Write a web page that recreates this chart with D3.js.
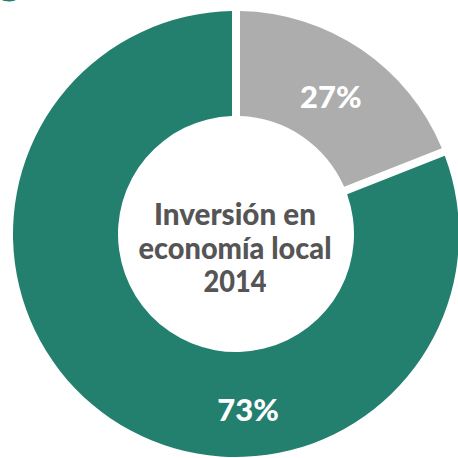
<!DOCTYPE html>
<html>
<head>
<meta charset="utf-8">
<script src="https://cdn.jsdelivr.net/npm/d3@7"></script>
<style>
  html, body { margin: 0; padding: 0; background: #fff; }
  svg { display: block; }
</style>
</head>
<body>
<svg id="chart" width="458" height="458"></svg>
<script>
// Data
const categories = ["Otros", "Economía local"];
const percentLabels = ["27%", "73%"];
// Slice shares as drawn in the picture (angular extent)
const sliceShares = [19, 81];
const colors = ["#adadad", "#237f6e"];
const centerLines = ["Inversión en", "economía local", "2014"];

const W = 458, H = 458;
const cx = 236, cy = 234;
const outerR = 223, innerR = 118;
const gap = 8;

const svg = d3.select("#chart");

// partial title glyph cut at the top
svg.append("text")
  .attr("x", -2).attr("y", -6)
  .attr("font-family", "Lato, sans-serif")
  .attr("font-weight", 900)
  .attr("font-size", 44)
  .attr("fill", "#237f6e")
  .text("g");

const g = svg.append("g").attr("transform", `translate(${cx},${cy})`);

const pie = d3.pie().sort(null).value(d => d)(sliceShares);
const arc = d3.arc()
  .innerRadius(innerR)
  .outerRadius(outerR)
  .padAngle(gap / outerR)
  .padRadius(outerR);

g.selectAll("path.slice")
  .data(pie)
  .join("path")
  .attr("class", "slice")
  .attr("d", arc)
  .attr("fill", (d, i) => colors[i]);

// labels
const midR = (innerR + outerR) / 2;
const labelArc = d3.arc().innerRadius(midR).outerRadius(midR);
g.selectAll("text.pct")
  .data(pie)
  .join("text")
  .attr("class", "pct")
  .attr("transform", (d, i) => {
    if (i === 0) {
      const [x, y] = labelArc.centroid(d);
      return `translate(${x - 1},${y + 4})`;
    }
    // big slice label sits near the bottom of the ring
    const a = Math.PI * 0.978;
    const r = 176;
    return `translate(${r * Math.sin(a)},${-r * Math.cos(a)})`;
  })
  .attr("text-anchor", "middle")
  .attr("dy", "0.36em")
  .attr("font-family", "Lato, sans-serif")
  .attr("font-weight", 900)
  .attr("font-size", 31)
  .attr("fill", "#ffffff")
  .text((d, i) => percentLabels[i]);

// center text
const lineWidths = [162, 193, 63];
const baselines = [-9, 25, 58];
g.selectAll("text.center")
  .data(centerLines)
  .join("text")
  .attr("class", "center")
  .attr("x", -1)
  .attr("y", (d, i) => baselines[i])
  .attr("text-anchor", "middle")
  .attr("font-family", "Lato, sans-serif")
  .attr("font-weight", 900)
  .attr("font-size", 30)
  .attr("fill", "#555555")
  .attr("textLength", (d, i) => lineWidths[i])
  .attr("lengthAdjust", "spacingAndGlyphs")
  .text(d => d);
</script>
</body>
</html>
